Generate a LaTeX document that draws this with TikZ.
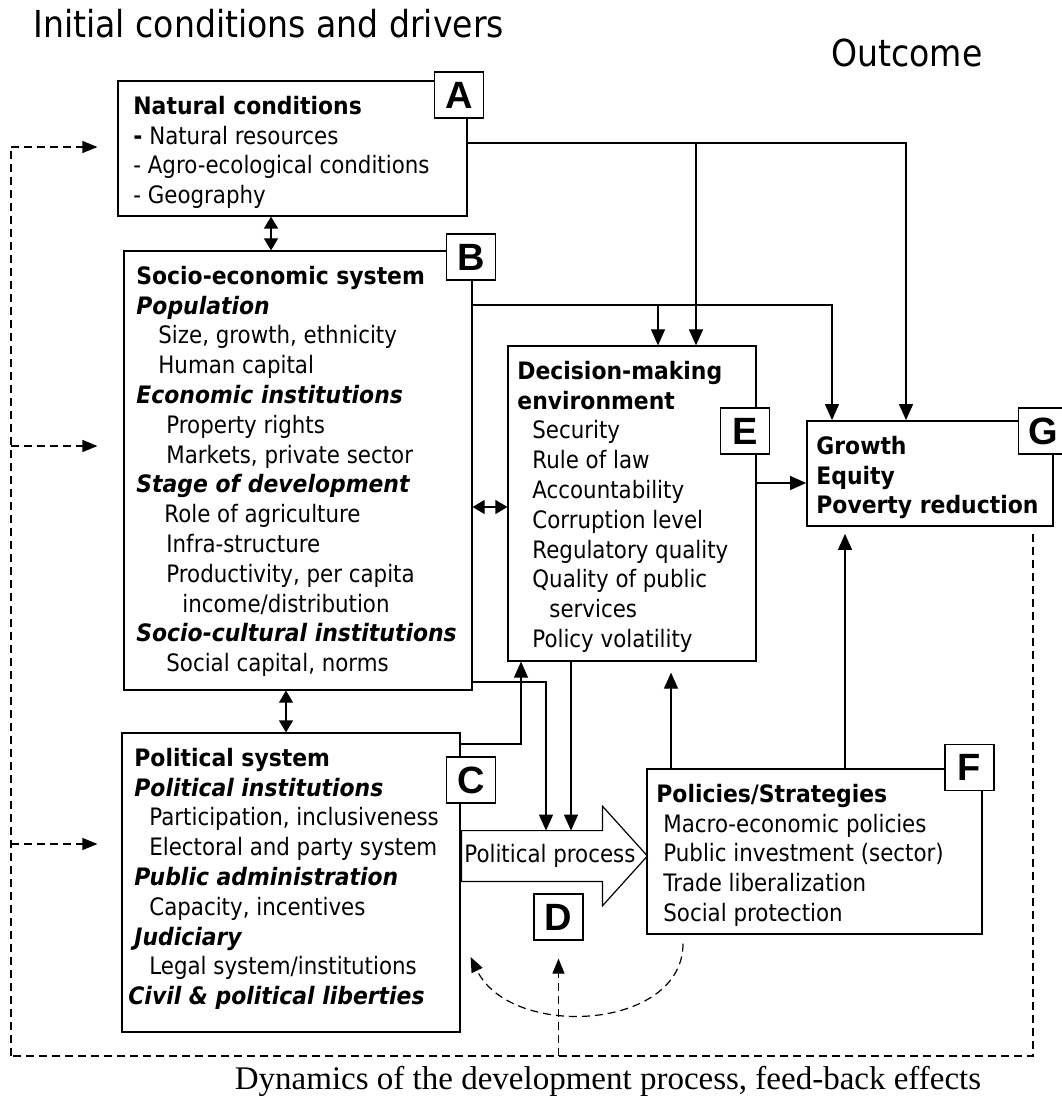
\documentclass[tikz,border=0pt]{standalone}
\usepackage{fontspec}
\setmainfont{DejaVu Sans}[FakeStretch=0.89,BoldFeatures={FakeStretch=0.913},BoldItalicFeatures={FakeStretch=0.913}]
\newfontfamily\tagfont{Liberation Sans}
\newfontfamily\notefont{Liberation Serif}
\usetikzlibrary{arrows.meta,fit,calc}
\newcommand{\bodysize}{\fontsize{12}{14.9}\selectfont}

\begin{document}
\begin{tikzpicture}[x=0.5pt,y=-0.5pt,
box/.style={draw,line width=0.6pt,inner sep=0pt},
tag/.style={draw,line width=0.6pt,fill=white,minimum width=24.5pt,minimum height=23pt,inner sep=0pt,font=\tagfont\bfseries\fontsize{19}{19}\selectfont},
txt/.style={anchor=north west,align=left,inner sep=0pt,font=\bodysize},
line/.style={line width=0.6pt},
arr/.style={line,-{Triangle[length=8pt,width=7pt]}},
dbl/.style={line,{Triangle[length=6pt,width=7pt]}-{Triangle[length=6pt,width=7pt]}},
fb/.style={line width=0.6pt,dash pattern=on 4pt off 2.5pt},
fbarr/.style={fb,-{Triangle[length=7.5pt,width=6pt]}}
]
\useasboundingbox (0,0) rectangle (1061,1096);

\node[anchor=base west,inner sep=0pt,font=\fontsize{18.6}{22}\selectfont] (title) at (33,38) {Initial conditions and drivers};
\node[anchor=base west,inner sep=0pt,font=\fontsize{18.6}{22}\selectfont] (outcome) at (831,67) {Outcome};
\node[anchor=base,inner sep=0pt,font=\notefont\fontsize{16.5}{18}\selectfont] (dyn) at (608,1089) {Dynamics of the development process, feed-back effects};

\node[box,fit={(118,81) (467,216)}] (A) {};
\node[box,fit={(124,251) (472,690)}] (B) {};
\node[box,fit={(122,733) (460,1032)}] (C) {};
\node[box,fit={(508,346) (756,661)}] (E) {};
\node[box,fit={(647,769) (982,934)}] (F) {};
\node[box,line width=0.9pt,fit={(807,421) (1053,526)}] (G) {};
\node[inner sep=0pt,fit={(462,831) (602,881)}] (pp) {};
\draw[line] (pp.north west) -- (pp.north east) -- ++(0,-24.5) -- ($(pp.east)+(45,0)$) -- ($(pp.south east)+(0,24.5)$) -- (pp.south east) -- (pp.south west) -- cycle;
\node[anchor=west,inner sep=0pt,font=\bodysize] (ppt) at (464,856) {Political process};

\node[txt] (At) at (133,93) {\strut\textbf{Natural conditions}\\\textbf{-} Natural resources\\- Agro-ecological conditions\\- Geography};
\node[txt] (Bt) at (136,263) {\strut\textbf{Socio-economic system}\\
\textbf{\textit{Population}}\\
\hspace*{11pt}Size, growth, ethnicity\\
\hspace*{11pt}Human capital\\
\textbf{\textit{Economic institutions}}\\
\hspace*{15pt}Property rights\\
\hspace*{15pt}Markets, private sector\\
\textbf{\textit{Stage of development}}\\
\hspace*{14pt}Role of agriculture\\
\hspace*{15pt}Infra-structure\\
\hspace*{15pt}Productivity, per capita\\
\hspace*{23pt}income/distribution\\
\textbf{\textit{Socio-cultural institutions}}\\
\hspace*{15pt}Social capital, norms};
\node[txt] (Ct) at (134,745) {\strut\textbf{Political system}\\
\textbf{\textit{Political institutions}}\\
\hspace*{7.5pt}Participation, inclusiveness\\
\hspace*{7.5pt}Electoral and party system\\
\textbf{\textit{Public administration}}\\
\hspace*{7.5pt}Capacity, incentives\\
\textbf{\textit{Judiciary}}\\
\hspace*{7.5pt}Legal system/institutions\\
\hspace*{-3pt}\textbf{\textit{Civil \& political liberties}}};
\node[txt] (Et) at (517,358) {\strut\textbf{Decision-making}\\
\textbf{environment}\\
\hspace*{7.5pt}Security\\
\hspace*{7.5pt}Rule of law\\
\hspace*{7.5pt}Accountability\\
\hspace*{7.5pt}Corruption level\\
\hspace*{7.5pt}Regulatory quality\\
\hspace*{7.5pt}Quality of public\\
\hspace*{16pt}services\\
\hspace*{7.5pt}Policy volatility};
\node[txt] (Ft) at (656,781) {\strut\textbf{Policies/Strategies}\\
\hspace*{3.5pt}Macro-economic policies\\
\hspace*{3.5pt}Public investment (sector)\\
\hspace*{3.5pt}Trade liberalization\\
\hspace*{3.5pt}Social protection};
\node[txt,font=\fontsize{12}{14.9}\selectfont\bfseries] (Gt) at (816,433) {\strut Growth\\Equity\\Poverty reduction};

\node[tag] (Atag) at (459,95) {A};
\node[tag] (Btag) at (471,257) {B};
\node[tag] (Ctag) at (471,780) {C};
\node[tag] (Dtag) at (558.5,917) {D};
\node[tag] (Etag) at (745,431) {E};
\node[tag] (Ftag) at (969.5,767.5) {F};
\node[tag] (Gtag) at (1043,431) {G};

\draw[arr] ([yshift=2.75pt]A.east) -| ([xshift=-12pt]G.north);
\draw[arr] ([yshift=2.75pt]A.east) -| ([xshift=32pt]E.north);
\draw[arr] ([yshift=82.75pt]B.east) -| ([xshift=-49pt]G.north);
\draw[arr] ([yshift=82.75pt]B.east) -| ([xshift=13pt]E.north);
\draw[arr] ([yshift=10.25pt]E.east) -- ([yshift=-4.75pt]G.west);
\draw[arr,shorten >=3.5pt] ([xshift=15.25pt]F.north) -- ([xshift=-42.5pt]G.south);
\draw[arr,shorten >=5.5pt] ([xshift=-71.75pt]F.north) -- ([xshift=19.5pt]E.south);
\draw[dbl] ([xshift=-10.75pt]A.south) -- ([xshift=-13.5pt]B.north);
\draw[dbl] ([xshift=-6pt]B.south) -- ([xshift=-2.5pt]C.north);
\draw[dbl] ([yshift=-18.25pt]B.east) -- ([yshift=-1.75pt]E.west);
\draw[arr] ([xshift=-30.5pt]E.south) -- ([xshift=19.5pt]pp.north);
\draw[arr] ([yshift=-105.75pt]B.east) -| ([xshift=7pt]pp.north);
\draw[arr] ([yshift=69.25pt]C.east) -| ([xshift=-55.5pt]E.south);

\coordinate (fbL) at (11,1056);
\coordinate (fbA) at (11,147);
\coordinate (fbB) at (11,446);
\coordinate (fbC) at (11,844);
\coordinate (fbD) at (558.5,1056);
\draw[fb,line width=0.9pt] ([xshift=-10.5pt,yshift=-3.5pt]G.south east) |- (fbL);
\draw[fb] (fbL) -- (fbA);
\draw[fbarr,shorten >=10pt] (fbA) -- (fbA -| A.west);
\draw[fbarr,shorten >=13pt] (fbB) -- (fbB -| B.west);
\draw[fbarr,shorten >=12pt] (fbC) -- (fbC -| C.west);
\draw[fbarr,shorten >=9pt] (fbD) -- (Dtag.south);
\draw[fbarr] ([xshift=-65.75pt,yshift=-4.5pt]F.south) .. controls +(0,87) and +(40,83) .. ([xshift=5pt,yshift=-37.25pt]C.east);
\end{tikzpicture}
\end{document}
